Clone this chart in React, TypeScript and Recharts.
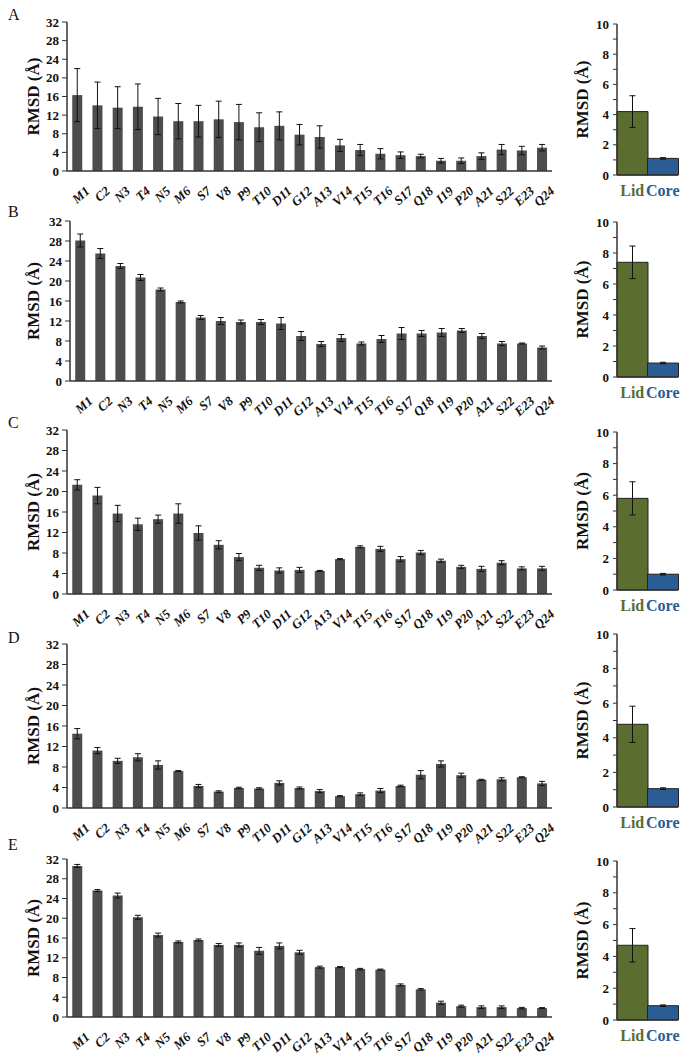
import React from "react"
import { BarChart, Bar, XAxis, YAxis, ErrorBar, Cell } from "recharts"

const residues = [
  "M1", "C2", "N3", "T4", "N5", "M6", "S7", "V8", "P9", "T10", "D11", "G12",
  "A13", "V14", "T15", "T16", "S17", "Q18", "I19", "P20", "A21", "S22", "E23", "Q24",
]

const rmsdA = [16.3, 14.1, 13.6, 13.8, 11.7, 10.7, 10.7, 11.1, 10.5, 9.4, 9.7, 7.8, 7.3, 5.5, 4.5, 3.7, 3.4, 3.2, 2.2, 2.2, 3.2, 4.6, 4.4, 5.0]
const errA = [5.7, 5.0, 4.5, 4.9, 3.9, 3.8, 3.4, 3.9, 3.8, 3.1, 3.0, 2.2, 2.4, 1.3, 1.2, 1.1, 0.7, 0.4, 0.5, 0.6, 0.7, 1.1, 0.9, 0.7]

const rmsdB = [28.1, 25.5, 23.0, 20.7, 18.3, 15.8, 12.7, 12.0, 11.8, 11.8, 11.5, 9.0, 7.4, 8.6, 7.5, 8.4, 9.5, 9.5, 9.7, 10.1, 9.0, 7.5, 7.5, 6.7]
const errB = [1.3, 1.0, 0.5, 0.6, 0.3, 0.2, 0.4, 0.7, 0.4, 0.5, 1.2, 0.9, 0.5, 0.7, 0.3, 0.7, 1.2, 0.6, 0.8, 0.4, 0.5, 0.4, 0.1, 0.3]

const rmsdC = [21.3, 19.2, 15.7, 13.6, 14.6, 15.7, 11.9, 9.6, 7.2, 5.1, 4.6, 4.7, 4.5, 6.8, 9.2, 8.8, 6.8, 8.1, 6.5, 5.3, 4.9, 6.1, 5.0, 5.0]
const errC = [1.0, 1.6, 1.6, 1.2, 0.8, 1.9, 1.4, 0.8, 0.7, 0.5, 0.5, 0.5, 0.1, 0.1, 0.2, 0.5, 0.5, 0.4, 0.3, 0.3, 0.5, 0.4, 0.3, 0.4]

const rmsdD = [14.5, 11.2, 9.2, 9.9, 8.4, 7.2, 4.3, 3.2, 3.9, 3.8, 4.9, 3.9, 3.3, 2.3, 2.7, 3.4, 4.3, 6.5, 8.6, 6.4, 5.5, 5.6, 6.0, 4.8]
const errD = [1.0, 0.6, 0.5, 0.7, 0.8, 0.1, 0.3, 0.15, 0.15, 0.15, 0.4, 0.2, 0.3, 0.1, 0.25, 0.4, 0.15, 0.8, 0.6, 0.4, 0.1, 0.3, 0.1, 0.4]

const rmsdE = [30.6, 25.6, 24.6, 20.2, 16.6, 15.2, 15.6, 14.6, 14.6, 13.4, 14.4, 13.1, 10.1, 10.1, 9.7, 9.6, 6.5, 5.6, 2.9, 2.2, 2.0, 2.0, 1.8, 1.8]
const errE = [0.3, 0.2, 0.5, 0.4, 0.4, 0.2, 0.2, 0.3, 0.4, 0.7, 0.6, 0.4, 0.2, 0.1, 0.15, 0.1, 0.2, 0.15, 0.3, 0.2, 0.25, 0.25, 0.15, 0.1]

const regions = ["Lid", "Core"]
const regionColors = ["#5b6e30", "#2b5d94"]
const regionA = [4.2, 1.1]
const regionErrA = [1.05, 0.05]
const regionB = [7.4, 0.9]
const regionErrB = [1.05, 0.05]
const regionC = [5.8, 1.0]
const regionErrC = [1.05, 0.05]
const regionD = [4.78, 1.06]
const regionErrD = [1.05, 0.05]
const regionE = [4.7, 0.9]
const regionErrE = [1.05, 0.05]

const leftTicks = [0, 4, 8, 12, 16, 20, 24, 28, 32]
const rightTicks = [0, 1, 2, 3, 4, 5, 6, 7, 8, 9, 10]

const serif = "'Liberation Serif', 'Times New Roman', serif"
const axisColor = "#333"

// positions of each panel row, in page pixels
const rows = [
  { letter: "A", letterY: 6, vals: rmsdA, errs: errA, reg: regionA, regErr: regionErrA, top: 22, bottom: 171, left: 67, rTop: 24, rBottom: 175 },
  { letter: "B", letterY: 203, vals: rmsdB, errs: errB, reg: regionB, regErr: regionErrB, top: 221, bottom: 381, left: 70, rTop: 222, rBottom: 377 },
  { letter: "C", letterY: 414, vals: rmsdC, errs: errC, reg: regionC, regErr: regionErrC, top: 430, bottom: 594, left: 67, rTop: 432, rBottom: 590 },
  { letter: "D", letterY: 629, vals: rmsdD, errs: errD, reg: regionD, regErr: regionErrD, top: 644, bottom: 808, left: 67, rTop: 634, rBottom: 807 },
  { letter: "E", letterY: 836, vals: rmsdE, errs: errE, reg: regionE, regErr: regionErrE, top: 859, bottom: 1017, left: 67, rTop: 861, rBottom: 1020 },
]

const yLabel = (cx: number) => (props: any) => {
  const vb = props.viewBox || {}
  const cy = vb.y + vb.height / 2
  return (
    <text
      x={cx}
      y={cy}
      transform={`rotate(-90 ${cx} ${cy})`}
      textAnchor="middle"
      dominantBaseline="central"
      fontFamily={serif}
      fontWeight="bold"
      fontSize={17}
      fill="#111"
    >
      RMSD (Å)
    </text>
  )
}

const renderResidueTick = (props: any) => {
  const { x, y, payload } = props
  return (
    <g transform={`translate(${x + 7},${y + 6})`}>
      <text
        x={0}
        y={0}
        transform="rotate(-42)"
        textAnchor="end"
        dominantBaseline="hanging"
        fontFamily={serif}
        fontWeight="bold"
        fontStyle="italic"
        fontSize={13}
        fill="#111"
      >
        {payload.value}
      </text>
    </g>
  )
}

const renderRegionTick = (props: any) => {
  const { x, y, payload, index } = props
  return (
    <text
      x={x}
      y={y + 13}
      textAnchor="middle"
      fontFamily={serif}
      fontWeight="bold"
      fontSize={16}
      fill={regionColors[index]}
    >
      {payload.value}
    </text>
  )
}

const tickStyle = { fontFamily: serif, fontWeight: "bold", fontSize: 13, fill: "#111" }

function ResidueChart({ values, errors, top, bottom, left }: any) {
  const data = residues.map((r, i) => ({ name: r, rmsd: values[i], err: errors[i] }))
  const mTop = 10
  const xH = 42
  const h = bottom - top + mTop + xH
  return (
    <div style={{ position: "absolute", left: 0, top: top - mTop }}>
      <BarChart width={560} height={h} data={data} margin={{ top: mTop, right: 8, bottom: 0, left: 0 }} barCategoryGap="26%">
        <XAxis dataKey="name" interval={0} tickLine={false} height={xH} tick={renderResidueTick} axisLine={{ stroke: axisColor, strokeWidth: 1.5 }} />
        <XAxis xAxisId="top" orientation="top" dataKey="name" tick={false} tickLine={false} height={0} axisLine={{ stroke: axisColor, strokeWidth: 1.5 }} />
        <YAxis
          domain={[0, 32]}
          ticks={leftTicks}
          interval={0}
          width={left}
          tickSize={5}
          tickMargin={3}
          tick={tickStyle}
          axisLine={{ stroke: axisColor, strokeWidth: 1.5 }}
          tickLine={{ stroke: axisColor }}
          label={{ content: yLabel(33) }}
        />
        <YAxis yAxisId="right" orientation="right" width={0} tick={false} tickLine={false} axisLine={{ stroke: axisColor, strokeWidth: 1.5 }} />
        <Bar dataKey="rmsd" fill="#4d4d4d" isAnimationActive={false}>
          <ErrorBar dataKey="err" width={3} stroke="#111" strokeWidth={1} direction="y" />
        </Bar>
      </BarChart>
    </div>
  )
}

function RegionChart({ values, errors, top, bottom }: any) {
  const data = regions.map((r, i) => ({ name: r, rmsd: values[i], err: errors[i] }))
  const mTop = 10
  const xH = 28
  const h = bottom - top + mTop + xH
  return (
    <div style={{ position: "absolute", left: 560, top: top - mTop }}>
      <BarChart width={125} height={h} data={data} margin={{ top: mTop, right: 7, bottom: 0, left: 0 }} barCategoryGap={0}>
        <XAxis dataKey="name" interval={0} tickLine={false} height={xH} tick={renderRegionTick} axisLine={{ stroke: axisColor, strokeWidth: 1.5 }} />
        <XAxis xAxisId="top" orientation="top" dataKey="name" tick={false} tickLine={false} height={0} axisLine={{ stroke: axisColor, strokeWidth: 1.5 }} />
        <YAxis
          domain={[0, 10]}
          ticks={rightTicks}
          interval={0}
          width={57}
          tickSize={4}
          tickMargin={4}
          tick={tickStyle}
          tickFormatter={(v: number) => (v % 2 === 0 ? String(v) : "")}
          axisLine={{ stroke: axisColor, strokeWidth: 1.5 }}
          tickLine={{ stroke: axisColor }}
          label={{ content: yLabel(22) }}
        />
        <YAxis yAxisId="right" orientation="right" width={0} tick={false} tickLine={false} axisLine={{ stroke: axisColor, strokeWidth: 1.5 }} />
        <Bar dataKey="rmsd" stroke="#222" strokeWidth={1} isAnimationActive={false}>
          {data.map((d, i) => (
            <Cell key={d.name} fill={regionColors[i]} />
          ))}
          <ErrorBar dataKey="err" width={3} stroke="#111" strokeWidth={1} direction="y" />
        </Bar>
      </BarChart>
    </div>
  )
}

export default function App() {
  return (
    <div style={{ position: "absolute", left: 0, top: 0, width: 689, height: 1060, background: "#fff", fontFamily: serif }}>
      {rows.map((r) => (
        <React.Fragment key={r.letter}>
          <div style={{ position: "absolute", left: 8, top: r.letterY, fontSize: 16, color: "#111" }}>{r.letter}</div>
          <ResidueChart values={r.vals} errors={r.errs} top={r.top} bottom={r.bottom} left={r.left} />
          <RegionChart values={r.reg} errors={r.regErr} top={r.rTop} bottom={r.rBottom} />
        </React.Fragment>
      ))}
    </div>
  )
}
